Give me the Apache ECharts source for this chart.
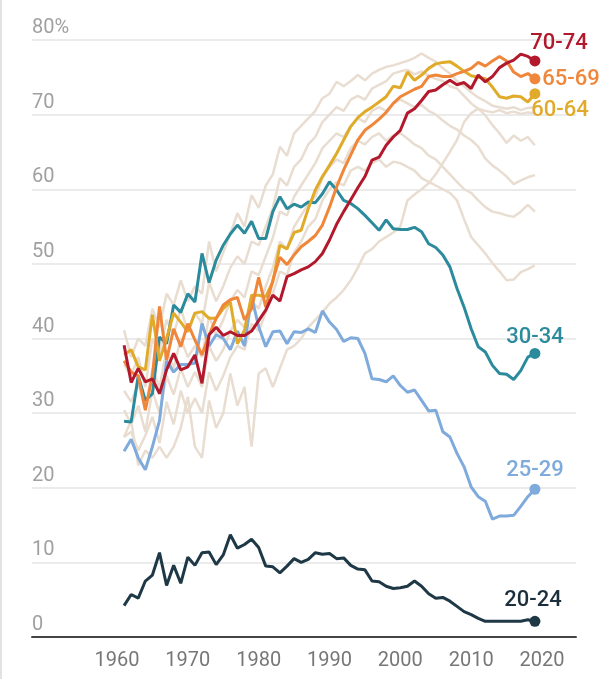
<!DOCTYPE html>
<html><head><meta charset="utf-8">
<script src="https://cdn.jsdelivr.net/npm/echarts@6/dist/echarts.min.js"></script>
<style>html,body{margin:0;padding:0;background:#fff}#c{width:609px;height:679px}</style>
</head><body><div id="c"></div>
<script>
const years = [1961,1962,1963,1964,1965,1966,1967,1968,1969,1970,
  1971,1972,1973,1974,1975,1976,1977,1978,1979,1980,
  1981,1982,1983,1984,1985,1986,1987,1988,1989,1990,
  1991,1992,1993,1994,1995,1996,1997,1998,1999,2000,
  2001,2002,2003,2004,2005,2006,2007,2008,2009,2010,
  2011,2012,2013,2014,2015,2016,2017,2018,2019];
const xTicks = [1960,1970,1980,1990,2000,2010,2020];

const v2024 = [4.2,5.7,5.2,7.5,8.3,11.3,6.9,9.6,7.2,10.7,
  9.6,11.3,11.4,9.7,11.0,13.7,11.9,12.4,13.1,12.0,
  9.5,9.4,8.6,9.5,10.5,10.0,10.4,11.3,11.1,11.2,
  10.5,10.6,9.6,9.1,9.0,7.5,7.4,6.8,6.5,6.6,
  6.8,7.5,6.8,5.8,5.2,5.3,4.8,4.1,3.4,3.0,
  2.5,2.1,2.1,2.1,2.1,2.1,2.1,2.3,2.1];
const v2529 = [24.9,26.5,24.0,22.4,25.5,29.0,37.0,35.5,36.5,36.5,
  36.7,42.0,39.0,40.5,40.0,38.5,41.0,39.0,45.6,41.6,
  38.9,40.9,41.0,39.3,40.9,40.8,41.3,40.8,43.7,42.2,
  41.2,39.6,40.1,40.0,38.0,34.6,34.5,34.2,35.0,33.7,
  32.8,33.1,31.7,30.3,30.4,27.5,26.8,24.6,22.8,20.1,
  18.8,18.2,15.8,16.2,16.2,16.3,17.5,18.8,19.8];
const v3034 = [28.9,28.8,35.0,31.7,32.6,40.2,39.3,44.5,43.5,46.0,
  44.9,51.4,47.5,50.5,52.5,54.0,55.2,54.1,55.7,53.4,
  53.4,57.0,59.0,57.4,58.0,57.6,58.3,58.2,59.4,61.0,
  59.9,58.5,58.1,57.4,56.5,55.5,54.5,55.9,54.7,54.6,
  54.6,54.9,54.3,52.7,52.2,51.2,49.6,46.7,44.2,41.3,
  38.9,38.2,36.4,35.3,35.2,34.5,35.7,37.5,38.0];
const v6064 = [37.8,38.5,36.2,35.8,43.2,37.0,40.0,43.4,42.2,40.9,
  43.4,43.6,42.7,42.7,44.0,44.9,39.3,41.1,45.8,45.8,
  45.6,47.6,52.5,52.0,54.2,54.5,57.4,59.9,61.7,63.2,
  64.8,66.6,68.4,69.6,70.4,71.0,71.7,72.4,73.8,73.6,
  75.7,74.6,75.3,76.2,76.8,77.0,77.1,76.5,75.8,75.2,
  75.0,74.8,73.7,72.4,72.2,72.5,72.4,71.7,72.8];
const v6569 = [37.0,35.5,35.0,30.4,35.0,44.3,37.1,41.3,38.9,42.0,
  39.8,37.8,40.5,42.7,44.5,45.2,45.5,42.5,44.0,48.2,
  44.2,47.8,50.9,49.9,51.2,52.3,53.0,53.8,55.2,57.6,
  60.3,62.6,64.6,66.6,67.9,68.6,69.4,70.3,71.5,72.4,
  72.9,73.4,73.8,75.1,75.3,75.1,75.1,75.5,75.8,76.2,
  77.0,76.5,77.2,77.8,77.2,75.7,75.1,75.5,74.8];
const v7074 = [39.1,34.1,36.0,34.2,34.6,32.6,35.8,38.0,35.8,36.2,
  37.8,34.0,40.5,41.5,40.4,40.9,40.4,40.4,41.0,42.4,
  43.8,45.8,45.0,48.3,48.7,49.2,49.6,50.3,51.4,53.2,
  55.3,57.0,58.6,60.2,61.7,63.9,64.3,65.9,67.0,67.9,
  70.2,70.8,71.9,73.1,73.3,74.0,74.6,74.0,74.3,73.5,
  75.3,74.4,75.1,76.3,76.9,77.3,78.1,77.8,77.2];

// other age groups (unlabelled, beige)
const v3539 = [26.8,27.5,25.0,27.0,29.5,26.0,31.5,28.5,33.0,30.0,
  32.0,30.0,35.5,33.0,35.0,37.5,39.0,38.5,42.0,41.0,
  43.5,46.0,49.0,48.5,51.5,53.0,55.0,56.0,58.5,60.0,
  61.0,60.5,62.5,63.0,62.5,63.5,64.0,63.0,63.7,63.5,
  63.0,62.5,61.5,61.0,60.5,60.0,59.5,58.5,56.0,53.6,
  52.5,51.4,50.1,49.0,47.8,47.9,48.9,49.3,49.8];
const v4044 = [30.4,28.5,31.0,27.5,33.0,30.0,35.0,32.5,36.0,33.5,
  35.5,33.5,39.0,37.0,38.5,41.0,42.5,41.5,45.0,44.0,
  47.0,49.5,53.0,52.0,55.0,56.5,58.0,59.0,61.5,63.0,
  64.0,63.5,65.5,66.5,66.0,67.0,67.5,66.5,67.2,67.5,
  66.8,66.0,65.5,64.5,64.0,63.0,62.0,61.0,60.0,59.5,
  58.5,57.6,57.0,56.8,56.5,56.3,57.0,57.9,57.0];
const v4549 = [33.0,31.5,34.0,30.5,36.0,33.5,38.5,36.0,40.0,37.5,
  39.0,37.5,43.0,40.5,42.5,45.0,46.5,45.5,49.0,48.5,
  51.0,53.5,57.0,56.5,59.0,60.5,62.0,63.5,65.5,66.5,
  67.5,67.0,68.5,69.5,69.0,70.5,71.0,70.5,71.5,72.0,
  71.5,71.0,71.3,70.5,70.0,69.2,68.5,68.0,67.2,66.6,
  65.7,64.1,63.2,62.5,61.7,60.7,61.2,61.6,61.9];
const v5054 = [36.5,35.0,37.5,33.5,40.0,38.0,42.5,40.5,44.0,41.0,
  43.5,42.0,47.5,45.0,47.0,49.5,51.0,50.0,53.0,52.5,
  55.0,57.5,61.5,60.5,63.0,64.0,66.0,67.0,69.0,70.0,
  71.0,70.5,72.0,72.5,72.0,73.5,74.0,74.5,75.5,75.8,
  76.0,75.4,75.8,75.2,74.8,74.5,73.8,73.5,72.5,71.5,
  70.8,69.9,68.6,67.5,66.2,67.2,66.5,67.0,65.9];
const v5559 = [41.1,37.5,40.0,39.0,44.0,41.5,46.0,44.5,47.8,45.0,
  47.0,46.0,53.0,49.0,51.5,54.0,56.8,55.0,59.2,57.5,
  60.5,62.0,65.7,64.5,67.5,68.5,69.5,70.5,72.2,72.8,
  74.4,73.8,74.5,75.3,74.6,75.5,76.0,76.4,76.6,76.9,
  77.2,77.6,78.2,77.6,77.1,76.2,75.5,74.5,73.8,73.0,
  72.3,71.8,71.2,71.0,70.8,71.0,70.6,70.9,71.0];
const v7579 = [26.8,29.0,23.0,25.0,24.0,25.5,24.0,25.5,28.0,32.2,
  25.5,24.0,31.7,28.0,30.0,35.3,31.0,33.5,25.5,35.3,
  36.0,33.5,36.0,38.5,39.0,40.0,41.5,42.5,43.5,44.7,
  45.5,46.5,47.8,49.5,51.4,52.0,53.0,53.6,54.2,55.0,
  58.5,59.3,60.0,60.8,62.0,63.5,65.0,66.6,69.0,70.2,
  70.8,70.5,70.3,70.6,70.2,70.4,70.1,70.3,70.2];

const labels = ['20-24','25-29','30-34','60-64','65-69','70-74'];
const values = [v2024, v2529, v3034, v6064, v6569, v7074];
const others = [v3539, v4044, v4549, v5054, v5559, v7579];

// styles
const colors = ['#1e3846','#7eaadc','#2b8b9c','#e0ab2a','#f0863a','#b3192c'];
const labelColors = ['#1c2f3b','#7eaadc','#2b8b9c','#e0ab2a','#f0863a','#b3192c'];
const labelOffsets = [[-2,-21],[0,-19],[0,-16],[25,17],[36,1],[24,-17]];
const beige = '#e8ddd0';

const pair = arr => arr.map((v, i) => [years[i], v]);

const series = [];
others.forEach(a => series.push({
  type: 'line', data: pair(a), symbol: 'none', silent: true, z: 1,
  lineStyle: { color: beige, width: 2.5, opacity: 1 }
}));
values.forEach((a, k) => series.push({
  type: 'line', name: labels[k], data: pair(a), symbol: 'none', silent: true, z: 2,
  lineStyle: { color: colors[k], width: 3, opacity: 1 }
}));
series.push({
  type: 'scatter', silent: true, z: 3, symbolSize: 11,
  itemStyle: { opacity: 1 },
  data: values.map((a, k) => ({
    value: [years[years.length - 1], a[a.length - 1]],
    itemStyle: { color: colors[k], opacity: 1 },
    label: {
      show: true, formatter: labels[k], position: 'inside',
      offset: labelOffsets[k], color: labelColors[k], opacity: 1,
      fontSize: 22, fontWeight: 500, fontFamily: 'Roboto'
    }
  }))
});

const chart = echarts.init(document.getElementById('c'), null, { renderer: 'canvas' });
chart.setOption({
  animation: false,
  backgroundColor: '#fff',
  graphic: [{ type: 'rect', left: 0, top: 0, shape: { width: 2, height: 679 }, style: { fill: '#e2e2e2' } }],
  grid: { left: 32, right: 33, top: 40, bottom: 42, containLabel: false },
  xAxis: {
    type: 'value', min: 1948, max: 2024.8,
    axisLine: { show: true, lineStyle: { color: '#444', width: 2 } },
    axisTick: { show: false },
    splitLine: { show: false },
    axisLabel: {
      customValues: xTicks, margin: 14, color: '#777',
      fontSize: 20, fontFamily: 'Roboto', formatter: v => String(v)
    }
  },
  yAxis: {
    type: 'value', min: 0, max: 80, interval: 10,
    axisLine: { show: false }, axisTick: { show: false },
    splitLine: { show: true, lineStyle: { color: '#e4e4e4', width: 1.5 } },
    axisLabel: {
      inside: true, margin: 0, align: 'left', verticalAlign: 'bottom',
      padding: [0, 0, 2, 0], lineHeight: 20,
      color: '#a0a0a0', fontSize: 20, fontFamily: 'Roboto',
      formatter: v => v === 80 ? '80%' : String(v)
    }
  },
  series: series
});
</script></body></html>
